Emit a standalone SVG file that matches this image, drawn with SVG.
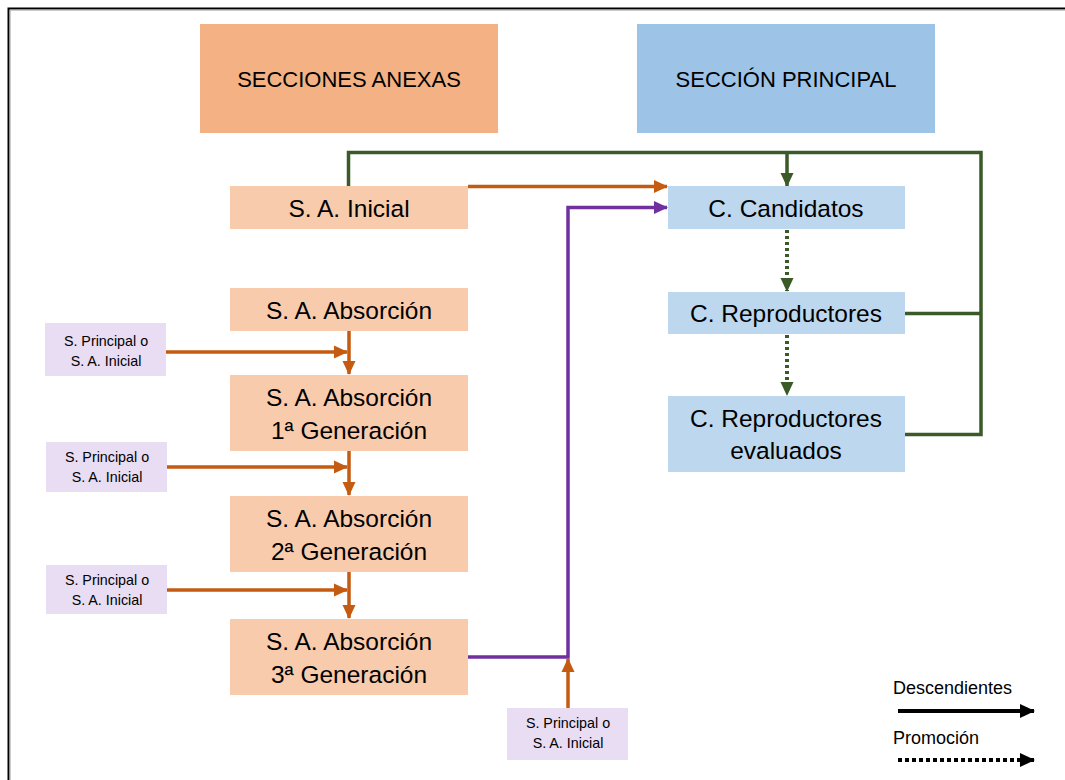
<svg xmlns="http://www.w3.org/2000/svg" width="1065" height="780" viewBox="0 0 1065 780">
<style>
  .t { font-family: "Liberation Sans", Arial, sans-serif; fill: #000; text-anchor: middle; }
  .title { font-size: 22px; }
  .lbl { font-size: 24.5px; }
  .sm { font-size: 14.3px; }
  .leg { font-size: 18px; text-anchor: start; }
  .anexa { fill: #F8CBAD; }
  .main { fill: #BDD7EE; }
  .src { fill: #E9DDF3; }
  .or { stroke: #C55A11; stroke-width: 3.5; fill: none; }
  .pu { stroke: #7030A0; stroke-width: 3.5; fill: none; }
  .gr { stroke: #3A5A27; stroke-width: 3.5; fill: none; }
  .grd { stroke: #3A5A27; stroke-width: 4; fill: none; stroke-dasharray: 3 3; }
</style>
<defs>
  <marker id="aOr" markerUnits="userSpaceOnUse" markerWidth="15" markerHeight="15" refX="13" refY="7.5" orient="auto">
    <path d="M0,1 L14,7.5 L0,14 Z" fill="#C55A11"/>
  </marker>
  <marker id="aPu" markerUnits="userSpaceOnUse" markerWidth="15" markerHeight="15" refX="13" refY="7.5" orient="auto">
    <path d="M0,1 L14,7.5 L0,14 Z" fill="#7030A0"/>
  </marker>
  <marker id="aGr" markerUnits="userSpaceOnUse" markerWidth="15" markerHeight="15" refX="13" refY="7.5" orient="auto">
    <path d="M0,1 L14,7.5 L0,14 Z" fill="#3A5A27"/>
  </marker>
  <marker id="aBk" markerUnits="userSpaceOnUse" markerWidth="16" markerHeight="16" refX="14" refY="8" orient="auto">
    <path d="M0,1 L15,8 L0,15 Z" fill="#000"/>
  </marker>
</defs>
<rect x="0" y="0" width="1065" height="780" fill="#fff"/>
<path d="M8.5,780 L8.5,8.5 L1065,8.5" fill="none" stroke="#000" stroke-width="2"/>
<path d="M10,780 L10,10 L1065,10" fill="none" stroke="#999" stroke-width="1"/>

<g id="connectors">
  <path class="gr" d="M348.5,186 L348.5,152.5 L981,152.5 L981,434.5 L905,434.5"/>
  <path class="gr" d="M905,313.5 L981,313.5"/>
  <path class="gr" d="M787,152.5 L787,186" marker-end="url(#aGr)"/>
  <path class="grd" d="M787,230 L787,291" marker-end="url(#aGr)"/>
  <path class="grd" d="M787,335 L787,395" marker-end="url(#aGr)"/>
  <path class="or" d="M468,186.5 L667,186.5" marker-end="url(#aOr)"/>
  <path class="pu" d="M468,657 L568,657 L568,207.5 L667,207.5" marker-end="url(#aPu)"/>
  <path class="or" d="M568,708 L568,659" marker-end="url(#aOr)"/>
  <path class="or" d="M349,331 L349,374" marker-end="url(#aOr)"/>
  <path class="or" d="M166,352 L347,352" marker-end="url(#aOr)"/>
  <path class="or" d="M349,451 L349,495" marker-end="url(#aOr)"/>
  <path class="or" d="M167,467 L347,467" marker-end="url(#aOr)"/>
  <path class="or" d="M349,572 L349,618" marker-end="url(#aOr)"/>
  <path class="or" d="M167,590 L347,590" marker-end="url(#aOr)"/>
</g>

<g id="hdr-anexas">
  <rect x="200" y="24" width="298" height="109" fill="#F4B183"/>
  <text class="t title" x="349" y="87">SECCIONES ANEXAS</text>
</g>
<g id="hdr-principal">
  <rect x="637" y="24" width="298" height="109" fill="#9DC3E6"/>
  <text class="t title" x="786" y="87">SECCIÓN PRINCIPAL</text>
</g>

<g id="sa-inicial">
  <rect class="anexa" x="230" y="186" width="238" height="43"/>
  <text class="t lbl" x="349" y="217">S. A. Inicial</text>
</g>
<g id="sa-absorcion">
  <rect class="anexa" x="230" y="288" width="238" height="43"/>
  <text class="t lbl" x="349" y="319">S. A. Absorción</text>
</g>
<g id="sa-abs-1">
  <rect class="anexa" x="230" y="375" width="238" height="76"/>
  <text class="t lbl" x="349" y="406">S. A. Absorción</text>
  <text class="t lbl" x="349" y="439">1ª Generación</text>
</g>
<g id="sa-abs-2">
  <rect class="anexa" x="230" y="496" width="238" height="76"/>
  <text class="t lbl" x="349" y="527">S. A. Absorción</text>
  <text class="t lbl" x="349" y="560">2ª Generación</text>
</g>
<g id="sa-abs-3">
  <rect class="anexa" x="230" y="619" width="238" height="76"/>
  <text class="t lbl" x="349" y="650">S. A. Absorción</text>
  <text class="t lbl" x="349" y="683">3ª Generación</text>
</g>

<g id="src-1">
  <rect class="src" x="45" y="323" width="121" height="53"/>
  <text class="t sm" x="106" y="346">S. Principal o</text>
  <text class="t sm" x="106" y="366">S. A. Inicial</text>
</g>
<g id="src-2">
  <rect class="src" x="46" y="442" width="121" height="50"/>
  <text class="t sm" x="107" y="462">S. Principal o</text>
  <text class="t sm" x="107" y="482">S. A. Inicial</text>
</g>
<g id="src-3">
  <rect class="src" x="46" y="565" width="121" height="49"/>
  <text class="t sm" x="107" y="585">S. Principal o</text>
  <text class="t sm" x="107" y="605">S. A. Inicial</text>
</g>
<g id="src-4">
  <rect class="src" x="507" y="708" width="121" height="52"/>
  <text class="t sm" x="568" y="728">S. Principal o</text>
  <text class="t sm" x="568" y="748">S. A. Inicial</text>
</g>

<g id="c-candidatos">
  <rect class="main" x="668" y="186" width="237" height="43"/>
  <text class="t lbl" x="786" y="217">C. Candidatos</text>
</g>
<g id="c-reproductores">
  <rect class="main" x="668" y="292" width="237" height="42"/>
  <text class="t lbl" x="786" y="322">C. Reproductores</text>
</g>
<g id="c-reproductores-evaluados">
  <rect class="main" x="668" y="396" width="237" height="76"/>
  <text class="t lbl" x="786" y="427">C. Reproductores</text>
  <text class="t lbl" x="786" y="459">evaluados</text>
</g>

<g id="legend">
  <text class="t leg" x="893" y="694">Descendientes</text>
  <path d="M898,711 L1034,711" stroke="#000" stroke-width="4" fill="none" marker-end="url(#aBk)"/>
  <text class="t leg" x="893" y="744">Promoción</text>
  <path d="M898,760 L1034,760" stroke="#000" stroke-width="4" stroke-dasharray="4 3" fill="none" marker-end="url(#aBk)"/>
</g>
</svg>
